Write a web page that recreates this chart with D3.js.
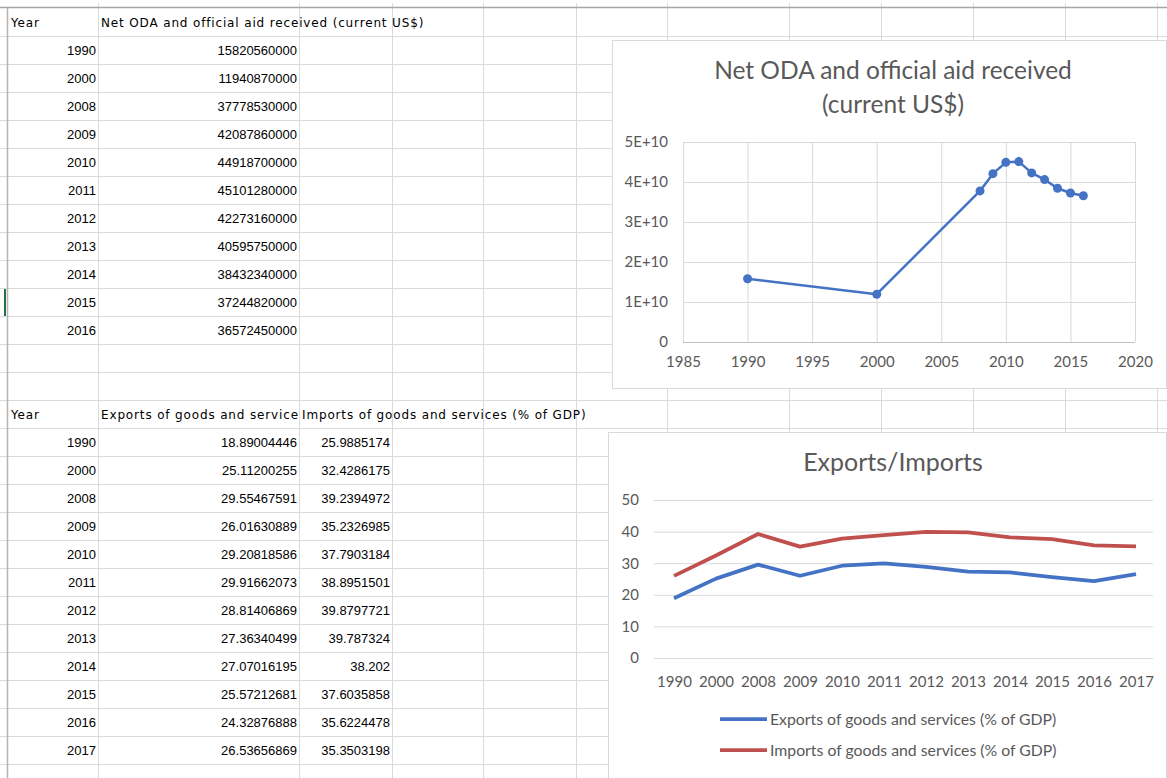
<!DOCTYPE html>
<html>
<head>
<meta charset="utf-8">
<script src="https://cdn.jsdelivr.net/npm/d3@7"></script>
<style>
  body { margin: 0; background: #fff; }
  .cell { font-family: "Liberation Sans", Arial, sans-serif; font-size: 13px; fill: #000; }
  .cell.label { font-family: "DejaVu Sans", Verdana, sans-serif; font-size: 12px; letter-spacing: 0.85px; }
  .chart text { font-family: Lato, "Open Sans", sans-serif; fill: #595959; }
</style>
</head>
<body>
<div id="sheet"></div>
<script>
// ---- data ----
const odaYears = [1990, 2000, 2008, 2009, 2010, 2011, 2012, 2013, 2014, 2015, 2016];
const odaValues = [15820560000, 11940870000, 37778530000, 42087860000, 44918700000, 45101280000,
    42273160000, 40595750000, 38432340000, 37244820000, 36572450000];

const tradeYears = ["1990", "2000", "2008", "2009", "2010", "2011", "2012", "2013", "2014", "2015", "2016", "2017"];
const exportsPct = [18.89004446, 25.11200255, 29.55467591, 26.01630889, 29.20818586, 29.91662073,
    28.81406869, 27.36340499, 27.07016195, 25.57212681, 24.32876888, 26.53656869];
const importsPct = [25.9885174, 32.4286175, 39.2394972, 35.2326985, 37.7903184, 38.8951501,
    39.8797721, 39.787324, 38.202, 37.6035858, 35.6224478, 35.3503198];

const odaHeader = "Net ODA and official aid received (current US$)";
const exportsHeader = "Exports of goods and services (% of GDP)";
const importsHeader = "Imports of goods and services (% of GDP)";
const odaTitle = ["Net ODA and official aid received", "(current US$)"];
const tradeTitle = "Exports/Imports";

const odaXTicks = [1985, 1990, 1995, 2000, 2005, 2010, 2015, 2020];
const odaYTicks = [0, 1e10, 2e10, 3e10, 4e10, 5e10];
const tradeYTicks = [0, 10, 20, 30, 40, 50];

const BLUE = "#4472c4";
const RED = "#c0504d";

// ---- sheet ----
const W = 1167, H = 778;
const ROW_H = 28, TOP = 8;
const colEdges = [8, 98, 299, 392, 483, 576, 667, 789, 881, 973, 1065, 1157];

const svg = d3.select("#sheet").append("svg")
    .attr("width", W)
    .attr("height", H);

const grid = svg.append("g");
const nRows = Math.ceil((H - TOP) / ROW_H) + 1;

grid.selectAll("line.row")
    .data(d3.range(1, nRows))
    .enter().append("line")
    .attr("x1", 0).attr("x2", W)
    .attr("y1", i => TOP + i * ROW_H + 0.5)
    .attr("y2", i => TOP + i * ROW_H + 0.5)
    .attr("stroke", "#dadada");

grid.selectAll("line.col")
    .data(colEdges.slice(1))
    .enter().append("line")
    .attr("x1", d => d + 0.5).attr("x2", d => d + 0.5)
    .attr("y1", 3).attr("y2", H)
    .attr("stroke", "#dadada");

grid.append("line")
    .attr("x1", 0).attr("x2", W)
    .attr("y1", TOP - 0.5).attr("y2", TOP - 0.5)
    .attr("stroke", "#a6a6a6").attr("stroke-width", 1.5);

grid.append("line")
    .attr("x1", colEdges[0] - 0.5).attr("x2", colEdges[0] - 0.5)
    .attr("y1", TOP).attr("y2", H)
    .attr("stroke", "#b4b4b4").attr("stroke-width", 1.5);

// active cell marker
grid.append("rect")
    .attr("x", 4).attr("y", TOP + 10 * ROW_H + 1)
    .attr("width", 2).attr("height", ROW_H - 1)
    .attr("fill", "#217346");

function cell(row, col, text, align) {
    const x0 = colEdges[col], x1 = colEdges[col + 1];
    const y = TOP + row * ROW_H + ROW_H / 2 + 4.5;
    return grid.append("text")
        .attr("class", align === "right" ? "cell" : "cell label")
        .attr("x", align === "right" ? x1 - 2 : x0 + 3)
        .attr("y", y)
        .attr("text-anchor", align === "right" ? "end" : "start")
        .text(text);
}

// text that runs into a filled neighbour gets cut at the cell edge
function cutCell(row, col, text) {
    const t = cell(row, col, text);
    const room = colEdges[col + 1] - colEdges[col] - 3;
    let s = text;
    while (s.length > 1 && t.node().getComputedTextLength() > room) {
        s = s.slice(0, -1);
        t.text(s);
    }
    return t;
}

// table 1
cell(0, 0, "Year");
cell(0, 1, odaHeader);
odaYears.forEach((y, i) => {
    cell(i + 1, 0, String(y), "right");
    cell(i + 1, 1, String(odaValues[i]), "right");
});

// table 2
const T2 = 14;
cell(T2, 0, "Year");
cutCell(T2, 1, exportsHeader);
cell(T2, 2, importsHeader);
tradeYears.forEach((y, i) => {
    cell(T2 + i + 1, 0, y, "right");
    cell(T2 + i + 1, 1, String(exportsPct[i]), "right");
    cell(T2 + i + 1, 2, String(importsPct[i]), "right");
});

// ---- charts ----
function chartBox(x, y, w, h) {
    const g = svg.append("g").attr("class", "chart");
    g.append("rect")
        .attr("x", x + 0.5).attr("y", y + 0.5)
        .attr("width", w).attr("height", h)
        .attr("fill", "#fff")
        .attr("stroke", "#d9d9d9");
    return g;
}

function styleAxis(g) {
    g.select(".domain").remove();
    g.selectAll(".tick line").attr("stroke", "#d9d9d9");
    g.selectAll(".tick text")
        .attr("fill", "#595959")
        .attr("font-family", "Lato, 'Open Sans', sans-serif")
        .attr("font-size", 15);
}

(function drawOda() {
    const c = chartBox(612, 40, 554, 348);

    c.selectAll("text.title")
        .data(odaTitle)
        .enter().append("text")
        .attr("x", 893)
        .attr("y", (d, i) => 79 + i * 34)
        .attr("text-anchor", "middle")
        .attr("font-size", 24.5)
        .text(d => d);

    const x = d3.scaleLinear().domain([1985, 2020]).range([683, 1135]);
    const y = d3.scaleLinear().domain([0, 5e10]).range([342, 142]);

    c.append("g")
        .attr("transform", "translate(683,0)")
        .call(d3.axisLeft(y).tickValues(odaYTicks).tickSize(-(1135 - 683))
            .tickFormat(v => v === 0 ? "0" : (v / 1e10) + "E+10"))
        .call(styleAxis)
        .call(g => g.selectAll(".tick text").attr("x", -15));

    c.append("g")
        .attr("transform", "translate(0,342)")
        .call(d3.axisBottom(x).tickValues(odaXTicks).tickSize(-200).tickFormat(d3.format("d")))
        .call(styleAxis)
        .call(g => g.selectAll(".tick text").attr("y", 14).attr("dy", "0.71em"));

    c.append("line")
        .attr("x1", 683).attr("x2", 1135)
        .attr("y1", 342.5).attr("y2", 342.5)
        .attr("stroke", "#bfbfbf");

    const line = d3.line()
        .x((d, i) => x(odaYears[i]))
        .y(d => y(d));

    c.append("path")
        .datum(odaValues)
        .attr("d", line)
        .attr("fill", "none")
        .attr("stroke", BLUE)
        .attr("stroke-width", 2.5)
        .attr("stroke-linejoin", "round");

    c.selectAll("circle")
        .data(odaValues)
        .enter().append("circle")
        .attr("cx", (d, i) => x(odaYears[i]))
        .attr("cy", d => y(d))
        .attr("r", 4.5)
        .attr("fill", BLUE);
})();

(function drawTrade() {
    const c = chartBox(608, 432, 558, 360);

    c.append("text")
        .attr("x", 893).attr("y", 471)
        .attr("text-anchor", "middle")
        .attr("font-size", 25)
        .text(tradeTitle);

    const x = d3.scalePoint().domain(tradeYears).range([674, 1136]);
    const y = d3.scaleLinear().domain([0, 50]).range([658, 500]);

    c.append("g")
        .attr("transform", "translate(654,0)")
        .call(d3.axisLeft(y).tickValues(tradeYTicks).tickSize(-(1153 - 654)))
        .call(styleAxis)
        .call(g => g.selectAll(".tick text").attr("x", -15));

    c.append("g")
        .attr("transform", "translate(0,658)")
        .call(d3.axisBottom(x).tickSize(0))
        .call(styleAxis)
        .call(g => g.selectAll(".tick text").attr("y", 18).attr("dy", "0.71em"));

    const series = [
        { name: exportsHeader, values: exportsPct, color: BLUE },
        { name: importsHeader, values: importsPct, color: RED }
    ];

    const line = d3.line()
        .x((d, i) => x(tradeYears[i]))
        .y(d => y(d));

    c.selectAll("path.series")
        .data(series)
        .enter().append("path")
        .attr("class", "series")
        .attr("d", d => line(d.values))
        .attr("fill", "none")
        .attr("stroke", d => d.color)
        .attr("stroke-width", 3.75)
        .attr("stroke-linejoin", "round");

    const legend = c.selectAll("g.legend")
        .data(series)
        .enter().append("g")
        .attr("class", "legend")
        .attr("transform", (d, i) => `translate(720,${719 + i * 31})`);

    legend.append("line")
        .attr("x1", 0).attr("x2", 47)
        .attr("stroke", d => d.color)
        .attr("stroke-width", 3.75);

    legend.append("text")
        .attr("x", 50).attr("y", 5.5)
        .attr("font-size", 15.8)
        .text(d => d.name);
})();
</script>
</body>
</html>
